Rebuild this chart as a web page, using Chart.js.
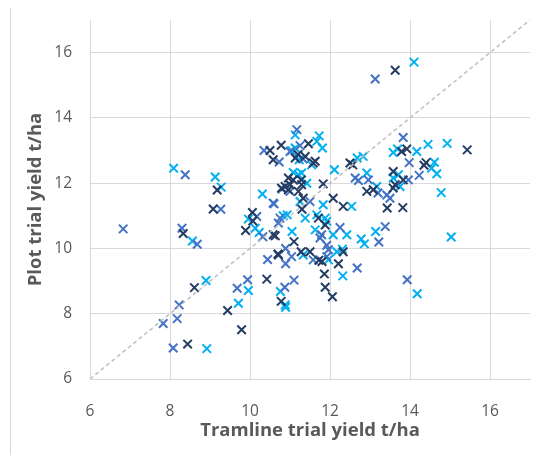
<!DOCTYPE html>
<html>
<head>
<meta charset="utf-8">
<script src="https://cdn.jsdelivr.net/npm/chart.js"></script>
<style>
  body { margin: 0; background: #fff; }
  #wrap { position: relative; width: 553px; height: 455px; }
  #edge { position: absolute; left: 10px; top: 8px; bottom: 0; border-left: 1px solid #d9d9d9; }
</style>
</head>
<body>
<div id="wrap"><div id="edge"></div><canvas id="yieldChart" width="553" height="455"></canvas></div>
<script>
// [tramline yield, plot yield] pairs, t/ha
let navyPoints = [
  [9.18,11.79],[9.08,11.21],[8.33,10.46],[8.61,8.80],[8.44,7.07],[9.44,8.10],[9.79,7.51],
  [10.42,9.06],[10.70,9.83],[11.10,10.21],[11.28,9.90],[10.78,8.38],[9.89,10.55],[10.06,11.10],
  [10.07,10.84],[10.63,10.39],[10.79,11.85],[10.96,11.80],[10.58,10.42],[10.71,9.80],[11.21,11.75],
  [10.78,13.16],[10.50,13.00],[10.58,12.72],[11.13,12.77],[10.96,12.16],[11.08,12.10],[10.88,11.90],
  [11.00,11.95],[11.46,13.21],[11.38,12.82],[11.63,12.67],[11.28,12.10],[11.83,11.98],[12.50,12.62],
  [12.57,12.56],[13.63,15.46],[15.43,13.02],[14.40,12.63],[14.35,12.55],[13.79,12.97],[13.92,13.05],
  [13.58,12.36],[13.83,12.10],[13.63,11.95],[12.92,11.75],[13.08,11.80],[13.58,11.85],[13.43,11.24],
  [13.82,11.25],[12.33,11.29],[12.08,11.54],[11.33,11.54],[11.71,10.93],[11.88,10.72],[11.50,9.90],
  [11.80,9.60],[11.72,9.64],[11.86,9.22],[11.88,8.81],[12.06,8.52],[12.21,9.53],[12.33,9.90],
  [11.58,12.62],[11.20,12.88],[11.29,11.95],[11.30,11.20]
];
let bluePoints = [
  [8.38,12.26],[6.83,10.60],[8.30,10.62],[8.68,10.13],[9.27,11.20],[8.23,8.27],[7.83,7.70],
  [8.18,7.85],[8.08,6.95],[9.68,8.78],[9.94,9.04],[10.44,9.66],[10.89,10.00],[10.89,9.53],
  [11.10,9.03],[10.87,8.81],[10.17,10.98],[10.32,10.36],[10.60,11.37],[10.71,10.78],[13.13,15.19],
  [13.83,13.40],[14.23,12.24],[13.93,9.04],[13.38,10.67],[13.22,10.20],[12.68,9.40],[12.25,10.64],
  [11.58,9.65],[11.92,10.10],[11.96,9.96],[11.17,13.64],[10.35,13.00],[10.73,12.65],[11.00,12.97],
  [10.80,11.82],[11.25,13.15],[11.33,12.74],[12.63,12.16],[12.71,12.08],[13.98,12.63],[12.96,12.10],
  [13.96,12.10],[10.58,11.39],[10.75,10.93],[11.04,9.75],[11.50,11.44],[11.79,10.42],[11.75,10.32],
  [11.92,9.75],[13.42,11.64],[13.50,11.54],[13.20,11.70],[11.00,11.75]
];
let cyanPoints = [
  [8.09,12.46],[9.13,12.19],[9.28,11.88],[10.31,11.67],[15.03,10.35],[14.18,8.61],[14.10,15.71],
  [14.45,13.19],[14.93,13.22],[14.61,12.64],[14.54,12.46],[14.67,12.29],[14.78,11.71],[13.14,10.52],
  [12.78,10.29],[12.86,10.14],[12.32,9.16],[12.42,10.42],[12.31,9.98],[12.17,9.90],[11.96,9.65],
  [8.56,10.23],[8.90,9.02],[8.92,6.93],[9.71,8.32],[9.96,8.71],[10.76,8.68],[10.88,8.27],
  [10.89,8.20],[9.96,10.90],[10.23,10.49],[11.05,10.52],[10.83,11.00],[10.93,11.03],[11.13,13.48],
  [11.04,13.00],[11.13,13.08],[11.23,12.72],[11.08,12.33],[11.29,12.31],[11.73,13.45],[11.81,13.08],
  [11.67,13.28],[11.54,12.56],[11.42,12.00],[12.11,12.41],[12.68,12.77],[13.58,12.94],[13.69,13.05],
  [14.17,12.97],[12.83,12.82],[12.92,12.31],[13.71,12.26],[13.58,12.16],[10.13,10.62],[11.25,11.44],
  [12.54,11.29],[11.83,11.34],[11.67,11.03],[11.88,10.93],[11.92,10.83],[11.63,10.57],[12.08,10.42],
  [11.38,10.93],[11.33,9.80],[13.17,11.90],[13.75,11.90],[11.21,12.26]
];
// 1:1 reference line
let equalLine = [[6,6],[17,17]];
let axisMin = 6;
let axisMax = 17;

let toXY = pts => pts.map(p => ({x: p[0], y: p[1]}));

let markSet = (pts, color) => ({
  data: toXY(pts),
  pointStyle: 'crossRot',
  pointRadius: 6,
  pointHoverRadius: 6,
  pointBorderWidth: 2,
  pointHoverBorderWidth: 2,
  borderColor: color,
  backgroundColor: color
});

let textGray = '#595959';
let gridGray = '#d9d9d9';

let axis = (title, tickPad, titlePad, size) => ({
  type: 'linear',
  min: axisMin,
  max: axisMax,
  ticks: {
    stepSize: 2,
    includeBounds: false,
    color: textGray,
    padding: tickPad,
    font: {family: 'Open Sans', size: 15.5}
  },
  grid: {color: gridGray, drawTicks: false},
  border: {color: gridGray},
  title: {
    display: true,
    text: title,
    color: textGray,
    padding: titlePad,
    font: {family: 'Open Sans', size: 18.5, weight: 'bold'}
  },
  afterFit: scale => {
    if (scale.isHorizontal()) scale.height = size;
    else scale.width = size;
    // labels never sit on the axis ends, so no extra room is needed there
    scale.paddingTop = 0;
    scale.paddingBottom = 0;
    scale.paddingLeft = 0;
    scale.paddingRight = 0;
  }
});

let ctx = document.getElementById('yieldChart').getContext('2d');

let yieldChart = new Chart(ctx, {
  type: 'scatter',
  data: {
    datasets: [
      {
        data: toXY(equalLine),
        showLine: true,
        borderColor: '#bfbfbf',
        borderWidth: 1.5,
        borderDash: [4, 3],
        pointRadius: 0,
        pointHoverRadius: 0
      },
      markSet(navyPoints, '#243b63'),
      markSet(bluePoints, '#4472c4'),
      markSet(cyanPoints, '#00b0f0')
    ]
  },
  options: {
    responsive: false,
    animation: false,
    layout: {padding: {top: 20, right: 23, left: 0, bottom: 0}},
    plugins: {legend: {display: false}, tooltip: {enabled: false}},
    scales: {
      x: axis('Tramline trial yield t/ha', 23, {top: 0, bottom: 13}, 76),
      y: axis('Plot trial yield t/ha', 18, {top: 25, bottom: 0}, 90)
    }
  }
});
</script>
</body>
</html>
